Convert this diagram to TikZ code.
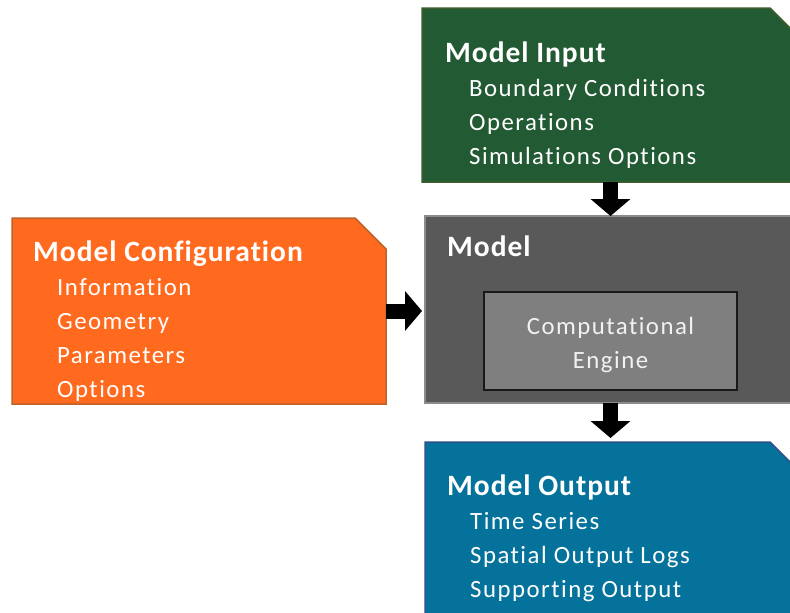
\documentclass[tikz,border=0pt]{standalone}
\usepackage{fontspec}
\setmainfont{Carlito}[Ligatures=NoCommon]
\newfontfamily\headfont{Carlito}[Ligatures=NoCommon, LetterSpace=3.3]
\newfontfamily\itemfont{Carlito}[Ligatures=NoCommon, LetterSpace=6]
\usetikzlibrary{arrows.meta}
\definecolor{ingreen}{HTML}{225A34}
\definecolor{inedge}{HTML}{3D5E2C}
\definecolor{cfgorange}{HTML}{FF6A1F}
\definecolor{cfgedge}{HTML}{C0622C}
\definecolor{modgray}{HTML}{595959}
\definecolor{modedge}{HTML}{8C8C8C}
\definecolor{enggray}{HTML}{7F7F7F}
\definecolor{outblue}{HTML}{04729A}
\definecolor{outedge}{HTML}{2F508C}
\tikzset{
box/.style={rectangle, inner sep=0pt, outer sep=0pt},
head/.style={font=\fontsize{29.5}{32}\selectfont\headfont\bfseries, text=white,
	anchor=base west, inner sep=0pt},
item/.style={font=\fontsize{24.8}{34}\selectfont\itemfont, text=white,
	anchor=base west, inner sep=0pt},
flow/.style={line width=15pt, -{Triangle[length=17pt,width=39pt]}}
}
% box with the north east corner cut off
\newcommand{\earbox}[4]{%
	\filldraw[fill=#2, draw=#3, line width=1.5pt] (#1.north west)
	-- ([xshift=-#4]#1.north east) -- ([yshift=-#4]#1.north east)
	-- (#1.south east) -- (#1.south west) -- cycle;}

\begin{document}
\begin{tikzpicture}[x=1pt, y=-1pt]
	\useasboundingbox (0,0) rectangle (790,613);
	\clip (0,0) rectangle (790,613);
	% boxes
	\node[box, minimum width=378pt, minimum height=174pt] (input) at (611,95) {};
	\earbox{input}{ingreen}{inedge}{30pt}
	\node[box, minimum width=374pt, minimum height=186pt] (config) at (199,311) {};
	\earbox{config}{cfgorange}{cfgedge}{31pt}
	\node[box, draw=modedge, fill=modgray, line width=1.5pt,
		minimum width=375pt, minimum height=187pt] (model) at (612.5,309.5) {};
	\node[box, draw=black!90, fill=enggray, line width=2pt,
		minimum width=253pt, minimum height=98pt] (engine) at (610.5,341) {};
	\node[box, minimum width=375pt, minimum height=198pt] (output) at (612.5,541) {};
	\earbox{output}{outblue}{outedge}{30pt}
	% texts
	\node[head] at ([shift={(23,54)}]input.north west) {Model Input};
	\foreach \t [count=\i] in {Boundary Conditions,Operations,Simulations Options}
		\node[item] at ([shift={(47,54+34*\i)}]input.north west) {\t};
	\node[head] at ([shift={(21,43)}]config.north west) {Model Configuration};
	\foreach \t [count=\i] in {Information,Geometry,Parameters,Options}
		\node[item] at ([shift={(45,43+34*\i)}]config.north west) {\t};
	\node[head] at ([shift={(22,40)}]model.north west) {Model};
	\node[item, anchor=center, align=center, text=white!95!black]
		at ([yshift=-4pt]engine.center) {Computational\\Engine};
	\node[head] at ([shift={(22,53)}]output.north west) {Model Output};
	\foreach \t [count=\i] in {Time Series,Spatial Output Logs,Supporting Output}
		\node[item] at ([shift={(45,53+34*\i)}]output.north west) {\t};
	% arrows
	\draw[flow] (engine.north |- input.south) -- (engine.north |- model.north);
	\draw[flow, shorten >=3pt] (config.east) -- (config.east -| model.west);
	\draw[flow, shorten >=4pt] (engine.south |- model.south) -- (engine.south |- output.north);
\end{tikzpicture}
\end{document}
